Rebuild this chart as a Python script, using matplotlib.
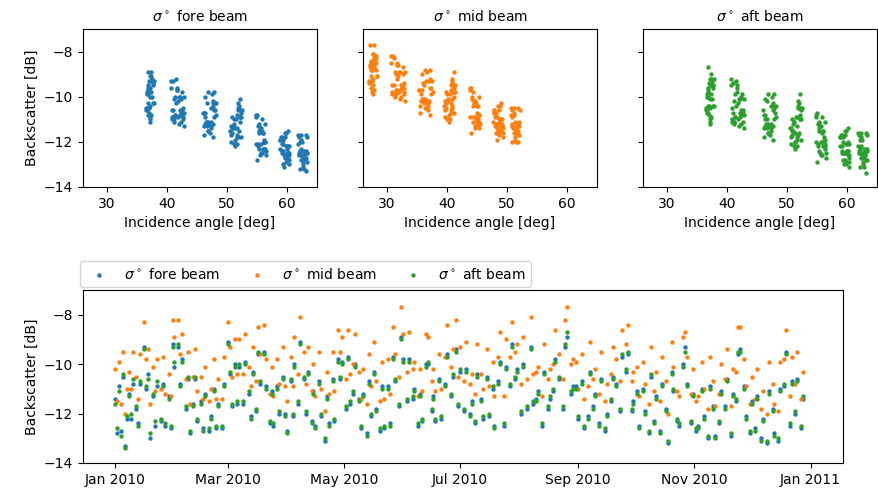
import numpy as np
import matplotlib
matplotlib.use("Agg")
import matplotlib.pyplot as plt
import matplotlib.dates as mdates

# ---------------- data ----------------
obs_day = [1,2,3,4,5,6,7,8,9,10,
    12,13,14,16,17,18,19,21,22,23,
    25,26,27,29,30,31,32,34,35,36,
    38,39,40,42,43,44,46,47,48,50,
    51,53,54,55,57,58,60,61,62,64,
    65,66,68,69,71,72,73,75,76,77,
    79,80,82,83,84,86,87,89,90,91,
    93,94,95,97,98,100,101,102,104,105,
    106,108,109,111,112,113,115,116,118,119,
    120,122,123,124,126,127,129,130,131,133,
    134,135,137,138,140,141,142,144,145,147,
    148,150,151,152,154,155,157,158,160,161,
    162,164,165,167,168,169,171,172,174,175,
    177,178,180,181,182,184,185,187,188,190,
    191,193,194,196,197,199,200,202,203,205,
    206,208,209,211,212,214,215,217,219,220,
    222,223,225,226,228,229,231,232,234,236,
    237,238,240,241,243,244,246,247,249,250,
    252,253,255,256,258,259,261,262,264,266,
    267,269,270,272,273,275,276,278,279,281,
    282,284,285,287,288,290,291,293,294,296,
    297,299,300,301,303,304,306,307,309,310,
    312,313,315,316,318,319,321,322,324,325,
    327,328,329,331,332,334,335,337,338,340,
    341,343,344,346,347,349,350,352,353,355,
    356,358,359,361,362]

fore_db = [-11.4,-12.8,-10.9,-12.7,-10.5,-13.3,-12.2,-11.2,-12.2,-10.8,
    -11.8,-12.4,-10.8,-9.3,-11.0,-10.4,-13.0,-11.3,-12.5,-10.9,
    -12.3,-10.8,-12.5,-11.3,-12.6,-9.2,-10.1,-9.3,-10.8,-9.8,
    -11.8,-10.6,-12.8,-11.6,-10.6,-12.3,-11.5,-12.6,-11.2,-12.7,
    -12.1,-11.0,-12.6,-11.6,-12.6,-10.8,-9.1,-10.4,-11.7,-10.0,
    -11.6,-10.1,-11.6,-9.9,-11.2,-12.1,-10.3,-11.9,-9.6,-10.8,
    -9.5,-10.9,-12.4,-11.1,-12.5,-10.9,-12.0,-10.5,-12.0,-12.7,
    -10.7,-12.1,-10.0,-11.6,-9.1,-10.6,-12.0,-10.3,-12.3,-11.1,
    -12.5,-10.7,-12.1,-13.1,-11.3,-12.4,-10.6,-12.3,-9.8,-10.6,
    -9.9,-11.8,-9.7,-11.6,-11.2,-10.0,-11.4,-12.6,-11.2,-12.8,
    -10.7,-12.1,-10.3,-11.8,-12.7,-10.9,-12.6,-10.9,-12.4,-9.7,
    -10.7,-11.7,-8.9,-9.8,-11.5,-9.8,-11.4,-11.0,-12.5,-11.2,
    -12.3,-10.0,-10.0,-11.9,-11.3,-12.3,-10.6,-12.2,-10.8,-9.6,
    -11.3,-10.5,-9.4,-11.7,-10.3,-11.9,-10.2,-12.0,-11.5,-12.4,
    -10.4,-11.4,-12.2,-10.5,-12.1,-11.0,-12.5,-10.7,-9.9,-12.5,
    -10.1,-10.9,-9.2,-10.6,-10.2,-12.0,-10.0,-11.8,-9.3,-11.6,
    -11.4,-11.1,-12.5,-10.3,-11.8,-11.4,-11.1,-9.8,-10.6,-11.8,
    -9.3,-8.9,-11.2,-10.9,-10.9,-12.2,-10.7,-12.6,-12.1,-10.3,
    -11.7,-11.2,-12.4,-10.6,-12.7,-12.0,-11.5,-10.5,-10.8,-11.9,
    -9.7,-10.3,-9.6,-11.9,-11.5,-11.1,-12.5,-11.0,-11.9,-12.8,
    -10.5,-12.3,-11.3,-12.7,-10.8,-11.8,-13.2,-10.3,-11.1,-12.3,
    -12.5,-10.0,-9.3,-10.8,-12.4,-11.2,-12.7,-12.5,-11.0,-12.1,
    -13.0,-10.9,-11.7,-12.9,-12.4,-11.1,-11.7,-10.6,-12.9,-11.2,
    -11.5,-9.6,-9.4,-10.9,-12.1,-12.8,-11.5,-12.6,-11.3,-13.0,
    -12.2,-13.2,-11.1,-11.8,-12.8,-13.1,-11.0,-10.9,-9.5,-12.5,
    -10.7,-12.0,-10.6,-12.6,-11.4]

mid_db = [-10.2,-11.5,-9.9,-11.6,-9.5,-12.0,-11.0,-10.3,-11.0,-9.5,
    -10.5,-11.4,-9.6,-8.3,-9.8,-9.4,-11.6,-10.1,-11.1,-9.8,
    -11.0,-9.7,-11.2,-10.4,-11.3,-8.2,-8.9,-8.2,-9.6,-8.8,
    -10.6,-9.5,-11.6,-10.5,-9.4,-11.1,-10.5,-11.4,-10.1,-11.5,
    -11.0,-9.8,-11.4,-10.6,-11.4,-9.7,-8.3,-9.3,-10.5,-9.0,
    -10.4,-9.0,-10.4,-8.8,-10.1,-10.9,-9.3,-10.7,-8.5,-9.6,
    -8.4,-9.8,-11.2,-10.1,-11.3,-9.8,-10.8,-9.3,-10.9,-11.5,
    -9.7,-10.9,-8.9,-10.4,-8.1,-9.5,-10.8,-9.3,-11.1,-10.0,
    -11.3,-9.5,-11.0,-11.9,-10.3,-11.2,-9.5,-11.1,-8.6,-9.5,
    -8.9,-10.6,-8.6,-10.4,-10.0,-8.8,-10.3,-11.4,-10.2,-11.6,
    -9.6,-10.9,-9.1,-10.7,-11.5,-9.9,-11.4,-9.8,-11.2,-8.5,
    -9.6,-10.5,-7.7,-8.8,-10.3,-8.7,-10.2,-9.9,-11.3,-10.2,
    -11.1,-8.8,-8.9,-10.7,-10.2,-11.1,-9.6,-11.0,-9.7,-8.4,
    -10.1,-9.4,-8.2,-10.5,-9.3,-10.7,-9.1,-10.8,-10.4,-11.2,
    -9.2,-10.4,-11.0,-9.4,-10.9,-9.9,-11.3,-9.7,-8.7,-11.3,
    -9.0,-9.7,-8.3,-9.5,-9.2,-10.8,-8.9,-10.6,-8.1,-10.4,
    -10.3,-10.1,-11.3,-9.2,-10.6,-10.2,-10.0,-8.6,-9.6,-10.6,
    -8.2,-7.7,-10.0,-9.8,-9.9,-11.0,-9.6,-11.4,-10.9,-9.1,
    -10.6,-10.2,-11.2,-9.5,-11.5,-10.8,-10.4,-9.3,-9.8,-10.7,
    -8.6,-9.2,-8.4,-10.7,-10.3,-10.1,-11.3,-9.9,-10.8,-11.6,
    -9.3,-11.1,-10.3,-11.5,-9.7,-10.7,-12.0,-9.1,-10.1,-11.1,
    -11.3,-8.9,-8.7,-9.7,-11.2,-10.2,-11.5,-11.3,-9.9,-11.0,
    -11.8,-9.7,-10.7,-11.7,-11.2,-10.0,-10.6,-9.4,-11.7,-10.2,
    -10.3,-8.5,-8.5,-9.8,-10.9,-11.6,-10.5,-11.4,-10.2,-11.8,
    -11.1,-12.0,-9.9,-10.8,-11.6,-11.9,-9.9,-9.8,-8.6,-11.3,
    -9.7,-10.8,-9.5,-11.4,-10.3]

aft_db = [-11.6,-12.6,-11.1,-12.9,-10.4,-13.4,-12.1,-11.3,-12.0,-10.6,
    -11.7,-12.5,-10.7,-9.4,-10.9,-10.6,-12.8,-11.2,-12.3,-10.7,
    -12.2,-10.9,-12.4,-11.4,-12.5,-9.3,-9.9,-9.2,-10.9,-9.9,
    -11.7,-10.5,-12.7,-11.7,-10.5,-12.2,-11.6,-12.7,-11.3,-12.6,
    -12.2,-11.1,-12.5,-11.7,-12.5,-10.9,-9.2,-10.3,-11.6,-10.1,
    -11.5,-10.0,-11.5,-10.0,-11.1,-12.2,-10.4,-11.8,-9.5,-10.7,
    -9.6,-11.0,-12.3,-11.2,-12.4,-11.0,-11.9,-10.6,-12.1,-12.8,
    -10.6,-12.0,-10.1,-11.5,-9.2,-10.5,-11.9,-10.4,-12.4,-11.2,
    -12.6,-10.8,-12.0,-13.0,-11.4,-12.5,-10.7,-12.2,-9.9,-10.5,
    -10.0,-11.7,-9.8,-11.5,-11.1,-10.1,-11.5,-12.5,-11.3,-12.9,
    -10.8,-12.0,-10.4,-11.9,-12.6,-11.0,-12.5,-11.0,-12.5,-9.8,
    -10.6,-11.6,-9.0,-9.9,-11.4,-9.9,-11.3,-11.1,-12.4,-11.3,
    -12.2,-10.1,-9.9,-11.8,-11.4,-12.2,-10.7,-12.1,-10.9,-9.7,
    -11.2,-10.4,-9.5,-11.6,-10.2,-11.8,-10.3,-12.1,-11.6,-12.3,
    -10.5,-11.5,-12.1,-10.6,-12.0,-10.9,-12.6,-10.8,-10.0,-12.4,
    -10.2,-10.8,-9.3,-10.5,-10.3,-11.9,-10.1,-11.7,-9.4,-11.5,
    -11.5,-11.2,-12.4,-10.4,-11.7,-11.3,-11.0,-9.9,-10.5,-11.7,
    -9.2,-8.7,-11.1,-11.0,-11.0,-12.1,-10.8,-12.5,-12.2,-10.4,
    -11.8,-11.3,-12.5,-10.7,-12.6,-12.1,-11.4,-10.6,-10.9,-11.8,
    -9.6,-10.2,-9.5,-11.8,-11.6,-11.2,-12.6,-11.1,-12.0,-12.7,
    -10.4,-12.4,-11.4,-12.8,-10.9,-11.9,-13.1,-10.4,-11.0,-12.2,
    -12.4,-10.1,-9.5,-10.9,-12.3,-11.3,-12.6,-12.6,-11.1,-12.2,
    -12.9,-11.0,-11.8,-13.0,-12.3,-11.2,-11.8,-10.7,-12.8,-11.3,
    -11.4,-9.5,-9.5,-11.0,-12.2,-12.7,-11.6,-12.7,-11.4,-13.1,
    -12.3,-13.1,-11.2,-11.9,-12.9,-13.0,-11.1,-10.8,-9.6,-12.4,
    -10.8,-11.9,-10.7,-12.5,-11.3]

# incidence angle of the fore/aft beams and of the mid beam [deg]
angle_fore_aft = [51.3,62.5,41.2,59.8,47.3,63.1,55.2,46.5,60.1,42.3,
    51.8,62.2,36.8,41.0,55.9,47.6,59.3,51.0,63.4,42.6,
    56.1,37.4,60.0,46.2,62.0,41.5,52.2,37.8,54.9,47.9,
    59.1,40.8,62.6,50.8,36.5,56.3,46.8,60.3,42.0,63.0,
    51.6,37.2,55.5,47.1,59.6,41.4,37.1,52.0,62.4,46.4,
    59.9,42.4,56.0,36.9,51.1,61.9,48.2,58.9,40.6,55.0,
    37.6,52.4,62.9,47.4,60.2,41.9,56.4,36.6,50.7,63.2,
    46.0,59.4,42.8,55.3,37.3,51.9,62.1,47.7,60.0,41.1,
    55.8,37.0,51.4,62.7,46.6,59.2,42.2,56.2,36.7,52.1,
    47.5,63.3,41.6,59.7,55.4,37.5,50.9,62.3,46.3,60.4,
    42.9,54.8,37.7,51.7,62.6,47.8,59.5,40.9,56.5,36.8,
    52.3,61.8,37.4,46.9,60.1,42.5,55.7,51.2,63.0,47.2,
    58.8,37.1,41.3,56.1,50.6,62.4,48.0,60.3,42.1,36.9,
    55.1,51.8,37.6,63.1,46.7,59.3,41.8,56.3,52.0,62.2,
    37.2,47.3,59.9,42.7,55.6,51.5,62.8,46.1,36.6,60.2,
    41.2,54.9,37.5,52.5,47.6,62.5,42.0,59.0,37.0,56.0,
    51.0,46.5,63.3,41.5,59.7,55.5,52.2,37.3,47.9,62.0,
    40.7,36.8,56.4,50.8,46.4,60.0,42.4,62.7,55.2,37.8,
    51.6,47.0,59.4,41.0,63.0,56.2,50.5,36.5,48.1,58.9,
    41.7,51.9,37.2,62.3,55.8,46.8,60.3,42.6,51.3,62.9,
    37.0,55.3,47.4,59.6,41.4,52.4,62.1,36.9,46.6,56.0,
    59.2,42.1,37.4,51.7,63.2,47.7,60.1,55.7,40.9,51.1,
    62.6,37.1,46.2,59.8,56.3,42.3,50.7,36.7,63.4,47.1,
    55.4,41.6,37.7,52.1,59.1,62.4,46.9,56.5,42.8,60.4,
    51.4,62.8,37.2,47.6,55.0,59.5,41.1,52.2,36.8,62.0,
    46.4,56.1,42.5,60.0,51.6]

angle_mid = [40.2,51.6,31.5,48.3,36.2,51.9,44.9,36.9,48.9,32.4,
    40.9,51.1,27.3,31.2,44.3,36.0,48.1,40.8,52.0,32.8,
    45.1,27.9,49.1,35.5,50.8,31.0,41.1,28.2,43.9,37.2,
    47.8,30.8,51.3,39.9,27.0,45.4,36.6,49.4,32.2,51.7,
    40.5,27.5,44.6,36.8,48.6,31.6,27.8,40.9,51.2,35.8,
    48.8,32.6,45.0,27.4,40.1,50.9,37.5,47.9,30.6,44.0,
    28.0,41.3,51.8,36.4,49.0,32.0,45.3,27.2,39.7,51.9,
    35.3,48.4,33.0,44.4,27.7,40.7,50.7,37.0,48.7,31.3,
    44.8,27.6,40.4,51.4,36.1,48.2,32.3,45.2,27.1,41.0,
    36.7,52.1,31.7,48.5,44.2,28.1,39.8,51.0,35.6,49.3,
    32.9,43.8,28.3,40.6,51.5,37.3,48.4,30.9,45.5,27.3,
    41.2,50.6,27.9,36.3,49.0,32.7,44.7,40.0,51.8,36.9,
    47.7,27.5,31.4,45.0,39.6,51.3,37.4,49.2,32.1,27.4,
    44.1,40.8,28.0,51.9,36.5,48.1,31.9,45.3,40.9,50.9,
    27.6,36.8,48.8,32.9,44.6,40.5,51.6,35.4,27.1,49.1,
    31.5,43.9,28.2,41.3,37.1,51.2,32.0,47.9,27.7,45.1,
    39.9,35.9,52.0,31.6,48.6,44.5,41.1,27.8,37.2,50.8,
    30.7,27.2,45.4,39.8,35.7,48.9,32.5,51.5,44.3,28.3,
    40.6,36.4,48.3,31.1,51.7,45.1,39.5,27.0,37.6,47.8,
    31.8,40.9,27.6,51.1,44.8,36.2,49.2,32.8,40.3,51.6,
    27.5,44.4,36.9,48.5,31.5,41.2,50.9,27.3,36.0,45.0,
    48.0,32.2,27.9,40.7,51.8,37.0,49.0,44.7,30.9,40.0,
    51.4,27.6,35.5,48.7,45.3,32.4,39.7,27.2,52.0,36.6,
    44.5,31.7,28.2,41.0,48.0,51.2,36.4,45.4,33.0,49.3,
    40.4,51.5,27.7,37.1,44.0,48.4,31.2,41.2,27.3,50.8,
    35.9,45.1,32.6,48.8,40.6]

beam_names = ["fore", "mid", "aft"]
beam_colors = ["tab:blue", "tab:orange", "tab:green"]

# ---------------- figure ----------------
dates = np.datetime64("2010-01-01") + (np.array(obs_day) - 1).astype("timedelta64[D]")

fig = plt.figure(figsize=(8.79, 4.93), dpi=100)

W, H = 879.0, 493.0
def rect(x0, y0, x1, y1):
    return [x0 / W, 1 - y1 / H, (x1 - x0) / W, (y1 - y0) / H]

ax1 = fig.add_axes(rect(83, 29, 317, 187))
ax2 = fig.add_axes(rect(363, 29, 597, 187), sharey=ax1)
ax3 = fig.add_axes(rect(643, 29, 877, 187), sharey=ax1)
axb = fig.add_axes(rect(83, 290, 843, 463))

top_axes = [ax1, ax2, ax3]
angles = [angle_fore_aft, angle_mid, angle_fore_aft]
values = [fore_db, mid_db, aft_db]
MS = 10

for ax, ang, val, name, col in zip(top_axes, angles, values, beam_names, beam_colors):
    ax.scatter(ang, val, s=MS, color=col, linewidths=0)
    ax.set_title(r"$\sigma^\circ$ " + name + " beam", fontsize=10)
    ax.set_xlim(26, 65)
    ax.set_xticks([30, 40, 50, 60])
    ax.set_xlabel("Incidence angle [deg]")
ax1.set_ylim(-14, -7)
ax1.set_yticks([-14, -12, -10, -8])
ax1.set_ylabel("Backscatter [dB]")
for ax in (ax2, ax3):
    ax.tick_params(labelleft=False)

for val, name, col in zip(values, beam_names, beam_colors):
    axb.scatter(dates, val, s=MS, color=col, linewidths=0,
                label=r"$\sigma^\circ$ " + name + " beam")
axb.set_ylim(-14, -7)
axb.set_yticks([-14, -12, -10, -8])
axb.set_ylabel("Backscatter [dB]")
axb.set_xlim(np.datetime64("2009-12-15"), np.datetime64("2011-01-18"))
axb.xaxis.set_major_locator(mdates.MonthLocator(bymonth=[1, 3, 5, 7, 9, 11]))
axb.xaxis.set_major_formatter(mdates.DateFormatter("%b %Y"))
axb.legend(loc="lower left", bbox_to_anchor=(-0.008, 1.0), ncol=3,
           borderaxespad=0.2, columnspacing=1.6)

fig.savefig("out.png", dpi=100)
